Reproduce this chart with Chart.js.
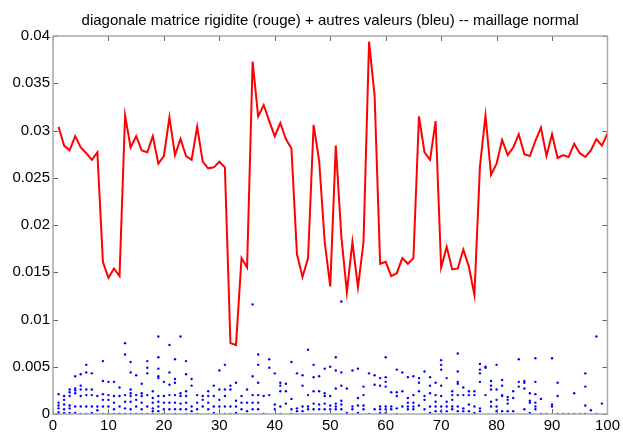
<!DOCTYPE html>
<html lang="fr">
<head>
    <meta charset="UTF-8">
    <title>diagonale matrice rigidite</title>
    <style>
        body {
            margin: 0;
            padding: 0;
            background: #fff;
        }
        .chart-box {
            width: 623px;
            height: 433px;
        }
    </style>
</head>
<body>
    <div class="chart-box">
        <canvas id="rigiditeChart" width="623" height="433"></canvas>
    </div>

    <script src="https://cdn.jsdelivr.net/npm/chart.js"></script>
    <script>
        const titre = 'diagonale matrice rigidite (rouge) + autres valeurs (bleu) -- maillage normal';

        // Diagonal terms of the stiffness matrix, one per node (x = 1..100)
        const diagonale = [
            0.0304, 0.0284, 0.0279, 0.0294, 0.0282, 0.0276, 0.0269, 0.0277, 0.0161, 0.0144,
            0.0154, 0.0146, 0.0316, 0.0282, 0.0294, 0.0279, 0.0277, 0.0294, 0.0265, 0.0273,
            0.0314, 0.0274, 0.0291, 0.0273, 0.0269, 0.0304, 0.0267, 0.0260, 0.0261, 0.0267,
            0.0261, 0.0075, 0.0073, 0.0165, 0.0155, 0.0373, 0.0315, 0.0327, 0.0310, 0.0294,
            0.0308, 0.0291, 0.0281, 0.0169, 0.0145, 0.0165, 0.0306, 0.0268, 0.0182, 0.0135,
            0.0284, 0.0188, 0.0129, 0.0182, 0.0134, 0.0182, 0.0394, 0.0337, 0.0159, 0.0161,
            0.0146, 0.0149, 0.0165, 0.0159, 0.0165, 0.0315, 0.0277, 0.0269, 0.0310, 0.0155,
            0.0177, 0.0153, 0.0154, 0.0174, 0.0156, 0.0126, 0.0262, 0.0316, 0.0253, 0.0265,
            0.0290, 0.0274, 0.0282, 0.0296, 0.0275, 0.0273, 0.0289, 0.0303, 0.0273, 0.0296,
            0.0271, 0.0274, 0.0272, 0.0286, 0.0276, 0.0272, 0.0279, 0.0291, 0.0284, 0.0297
        ];

        // Off-diagonal terms for each row, in thousandths (row 1 first)
        const autresMilli = [
            [2.1, 1.2, 0.9, 0.6, 0.2, 0], [1.9, 1.5, 1.0, 0.5, 0.1], [2.6, 2.3, 1.9, 0.9, 0.6, 0.1],
            [4.0, 2.7, 2.5, 2.2, 0.8, 0.1], [4.2, 3.0, 2.6, 1.9, 0.8, 0], [5.2, 4.4, 2.6, 2.0, 0.8, 0],
            [4.3, 2.6, 2.0, 0.8, 0.1], [1.9, 0.8, 0.4], [5.6, 3.5, 2.1, 1.5, 0.8, 0],
            [3.4, 2.0, 1.5, 0.8, 0], [3.4, 1.9, 1.2, 0.5, 0], [2.8, 1.9, 0.8, 0],
            [7.5, 6.3, 2.0, 1.3, 0.6, 0], [5.5, 4.4, 2.6, 2.2, 1.9, 1.3, 0.5, 0], [4.1, 2.0, 1.5, 0.8, 0],
            [3.2, 2.2, 1.9, 1.2, 0.5, 0], [5.6, 4.9, 4.3, 2.0, 0.8, 0], [2.4, 1.7, 1.2, 0.6, 0.3, 0],
            [8.2, 6.0, 4.8, 4.0, 3.8, 1.9, 1.3, 0.8, 0.3], [3.4, 1.9, 1.2, 0.5, 0], [7.3, 4.4, 3.1, 2.0, 1.2, 0.5],
            [5.8, 3.7, 3.3, 2.0, 1.2, 0.5, 0], [8.2, 2.2, 1.9, 1.1, 0.5], [5.6, 4.2, 2.4, 1.9, 1.2, 0.5, 0],
            [3.7, 3.0, 0.8, 0.3], [2.0, 1.2, 0.5, 0], [1.9, 1.5, 0.8],
            [2.4, 1.9, 1.2, 0.5], [3.0, 1.9, 0.8, 0.1], [4.6, 2.6, 1.5, 0.8],
            [5.2, 2.6, 1.9, 0.8, 0], [3.0, 2.6, 0.8, 0], [3.3, 1.4, 0.8, 0.1],
            [1.9, 1.2, 0.5], [2.6, 1.2, 0.3], [11.6, 4.0, 2.0, 1.2, 0.5],
            [6.3, 5.2, 3.3, 2.0, 1.2, 0.5], [1.9, 0], [5.8, 4.9, 2.0],
            [4.3, 1.0, 0.5], [3.3, 3.0, 2.4, 0.8, 0], [3.2, 2.4, 1.1],
            [5.5, 1.6, 0.5, 0], [4.3, 0.6, 0.3], [4.1, 3.0, 0.8, 0.3],
            [6.8, 2.0, 0.8, 0.5], [5.2, 3.9, 2.4, 1.1, 0.5], [4.0, 2.4, 1.0, 0.5],
            [4.8, 2.2, 1.9, 1.1, 0.5], [5.0, 1.9, 0.9, 0.5], [6.0, 4.6, 2.7, 1.1, 0.8, 0.5],
            [11.9, 4.4, 3.0, 1.4, 1.0, 0.5], [2.7, 0.1], [4.6, 0.8, 0.5],
            [4.8, 1.7, 0.9, 0.1], [2.9, 2.0, 0.9, 0.5], [4.3, 0],
            [4.1, 3.1, 0.5], [3.8, 3.0, 0.8, 0.5, 0.1], [6.0, 3.9, 3.4, 2.9, 0.8, 0.5, 0.1],
            [2.3, 0.8, 0.5], [4.7, 2.3, 1.9, 0.6, 0], [4.4, 2.4, 0.8],
            [3.9, 1.7, 1.2, 0.8, 0.5], [4.0, 2.0, 1.2, 0.8, 0.5], [3.8, 3.3, 2.4, 0.9],
            [4.5, 1.9, 1.5, 0.5], [3.9, 3.0, 2.2, 0.8, 0.1], [3.3, 2.0, 1.3, 0.8, 0.3],
            [5.7, 5.2, 4.7, 3.0, 1.9, 0.8, 0.3], [3.8, 1.3, 0.8, 0.3], [2.4, 2.0, 1.5, 0.8, 0.5],
            [6.4, 4.5, 3.4, 3.2, 2.0, 0.8, 0.3], [2.8, 2.0, 0.6, 0.3], [2.4, 2.0, 1.0, 0.3],
            [2.4, 2.0, 0.8, 0.1], [5.3, 4.7, 4.3, 3.4, 0.6, 0.3], [5.0, 4.9, 2.0],
            [3.5, 3.0, 2.6, 1.3, 0.8], [5.2, 2.6, 1.5, 0.8, 0.3], [3.6, 3.0, 2.0, 1.9, 0.3],
            [1.8, 1.5, 1.1, 0.3], [2.4, 1.7, 0.3], [5.8, 3.4, 2.9],
            [3.5, 3.3, 2.7, 0.5], [2.2, 1.4, 1.2, 0.1], [5.9, 3.4, 2.1, 1.2, 0.8, 0.5],
            [1.6, 0], [0], [5.9, 1.0, 0.8],
            [3.3, 1.9, 0], [0], [0],
            [2.2, 0], [0], [4.3, 2.9, 0.9, 0],
            [0.4], [8.2, 0], [1.1],
            []
        ];

        const xTicks = [0, 10, 20, 30, 40, 50, 60, 70, 80, 90, 100];
        const yTicks = [0, 0.005, 0.01, 0.015, 0.02, 0.025, 0.03, 0.035, 0.04];

        const lignePoints = diagonale.map((v, i) => ({ x: i + 1, y: v }));
        const autresPoints = [];
        autresMilli.forEach((row, i) => {
            row.forEach(v => autresPoints.push({ x: i + 1, y: v / 1000 }));
        });

        const police = 'Liberation Sans, Arial, sans-serif';

        // MATLAB-like axes box with inward ticks on all four sides,
        // plus the title centred over the plot area
        const boxPlugin = {
            id: 'axesBox',
            afterDraw(chart) {
                const { ctx, chartArea: a, scales } = chart;
                const len = 5;
                ctx.save();
                ctx.strokeStyle = '#666';
                ctx.lineWidth = 1;
                ctx.beginPath();
                xTicks.forEach(t => {
                    const px = Math.round(scales.x.getPixelForValue(t)) + 0.5;
                    ctx.moveTo(px, a.bottom); ctx.lineTo(px, a.bottom - len);
                    ctx.moveTo(px, a.top); ctx.lineTo(px, a.top + len);
                });
                yTicks.forEach(t => {
                    const py = Math.round(scales.y.getPixelForValue(t)) + 0.5;
                    ctx.moveTo(a.left, py); ctx.lineTo(a.left + len, py);
                    ctx.moveTo(a.right, py); ctx.lineTo(a.right - len, py);
                });
                ctx.stroke();
                ctx.strokeStyle = '#a8a8a8';
                ctx.lineWidth = 1.5;
                ctx.strokeRect(a.left, a.top, a.right - a.left, a.bottom - a.top);

                ctx.fillStyle = '#000';
                ctx.font = '15px ' + police;
                ctx.textAlign = 'center';
                ctx.textBaseline = 'alphabetic';
                ctx.fillText(titre, (a.left + a.right) / 2, 25);
                ctx.restore();
            }
        };

        const ctx = document.getElementById('rigiditeChart').getContext('2d');
        new Chart(ctx, {
            type: 'scatter',
            data: {
                datasets: [{
                    label: 'autres valeurs',
                    data: autresPoints,
                    pointRadius: 1.2,
                    pointBorderWidth: 0,
                    pointBackgroundColor: '#0000ff',
                    showLine: false,
                    order: 2
                }, {
                    label: 'diagonale',
                    data: lignePoints,
                    showLine: true,
                    borderColor: '#ff0000',
                    borderWidth: 2,
                    pointRadius: 0,
                    tension: 0,
                    order: 1
                }]
            },
            options: {
                responsive: false,
                animation: false,
                layout: {
                    padding: { left: 0, right: 13, top: 36, bottom: 0 }
                },
                plugins: {
                    legend: { display: false },
                    tooltip: { enabled: false },
                    title: { display: false }
                },
                scales: {
                    x: {
                        type: 'linear',
                        min: 0,
                        max: 100,
                        afterBuildTicks: s => { s.ticks = xTicks.map(v => ({ value: v })); },
                        afterFit: s => { s.height = 19; },
                        grid: { display: false, drawTicks: false },
                        border: { display: false },
                        ticks: {
                            color: '#000',
                            padding: 3,
                            maxRotation: 0,
                            font: { family: police, size: 15 }
                        }
                    },
                    y: {
                        type: 'linear',
                        min: 0,
                        max: 0.04,
                        afterBuildTicks: s => { s.ticks = yTicks.map(v => ({ value: v })); },
                        afterFit: s => { s.width = 53; },
                        grid: { display: false, drawTicks: false },
                        border: { display: false },
                        ticks: {
                            color: '#000',
                            padding: 3,
                            callback: v => String(+v.toFixed(3)),
                            font: { family: police, size: 15 }
                        }
                    }
                }
            },
            plugins: [boxPlugin]
        });
    </script>
</body>
</html>
